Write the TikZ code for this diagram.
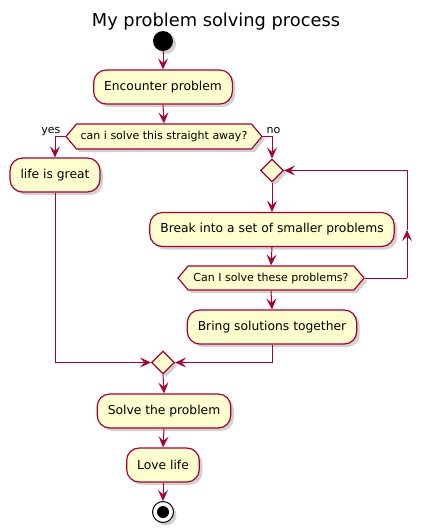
\documentclass[tikz,border=0pt]{standalone}
\usepackage{fontspec}
\setmainfont{DejaVu Sans}
\usetikzlibrary{arrows.meta,shapes.geometric,shapes.symbols,shadows}

\definecolor{umlfill}{HTML}{FEFECE}
\definecolor{umlline}{HTML}{A80036}

\begin{document}
\begin{tikzpicture}[x=1pt,y=-1pt,
	umlshadow/.style={drop shadow={shadow xshift=3pt,shadow yshift=-3pt,opacity=0.3,fill=black!60}},
	activity/.style={rectangle,rounded corners=12.5pt,draw=umlline,line width=1.2pt,fill=umlfill,
		umlshadow,minimum height=34pt,inner xsep=10.5pt,font=\fontsize{12.3}{14}\selectfont},
	decision/.style={signal,signal to=west and east,signal pointer angle=100,draw=umlline,
		line width=1.2pt,fill=umlfill,umlshadow,inner sep=0pt,font=\fontsize{11}{13}\selectfont},
	junction/.style={diamond,draw=umlline,line width=1.2pt,fill=umlfill,umlshadow,
		minimum width=23pt,minimum height=23pt,inner sep=0pt},
	flow/.style={draw=umlline,line width=1pt,-{Stealth[length=11pt,width=10pt,inset=4.5pt]}},
	plain/.style={draw=umlline,line width=1pt},
	branch/.style={font=\fontsize{11}{13}\selectfont}]
	\useasboundingbox (0,0) rectangle (432,532);

	\node (title) [anchor=base,font=\fontsize{17.8}{20}\selectfont] at (216,26.7) {My problem solving process};

	\node (start) [circle,fill=black,umlshadow,minimum size=20pt,inner sep=0pt] at (163,41) {};
	\node (enc) [activity] at (163,87) {Encounter problem};
	\node (ask) [decision,minimum width=196pt,minimum height=25pt] at (164,136.5) {can i solve this straight away?};
	\node (yes) [branch,anchor=base east] at (64,133) {yes};
	\node (no) [branch,anchor=base west] at (263,133) {no};

	\node (life) [activity] at (55,175) {life is great};

	\node (loop) [junction] at (272,170.5) {};
	\node (brk) [activity] at (272,229.5) {Break into a set of smaller problems};
	\node (again) [decision,minimum width=186pt,minimum height=24pt] at (271,278) {Can I solve these problems?};
	\node (bring) [activity] at (272,327) {Bring solutions together};
	\coordinate (back) at (407,278);
	\coordinate (backmid) at (407,230);

	\node (merge) [junction] at (163,362.5) {};
	\node (solve) [activity] at (164,411) {Solve the problem};
	\node (love) [activity] at (163,465) {Love life};
	\node (stop) [circle,draw=black,line width=1pt,fill=white,umlshadow,minimum size=21pt,inner sep=0pt] at (163,512) {};
	\node (stopin) [circle,fill=black,minimum size=12pt,inner sep=0pt] at (163,512) {};

	\draw[flow] (start.south) -- (enc.north);
	\draw[flow] (enc.south) -- (ask.north);
	\draw[flow] (ask.west) -| (life.north);
	\draw[flow] (ask.east) -| (loop.north);
	\draw[flow] (loop.south) -- (brk.north);
	\draw[flow] (brk.south) -- (again.north);
	\draw[flow] (again.south) -- (bring.north);
	\draw[plain] (again.east) -- (back);
	\draw[flow] (back) -- (backmid);
	\draw[flow] (backmid) |- (loop.east);
	\draw[flow] (life.south) |- (merge.west);
	\draw[flow] (bring.south) |- (merge.east);
	\draw[flow] (merge.south) -- (solve.north);
	\draw[flow] (solve.south) -- (love.north);
	\draw[flow] (love.south) -- (stop.north);
\end{tikzpicture}
\end{document}
